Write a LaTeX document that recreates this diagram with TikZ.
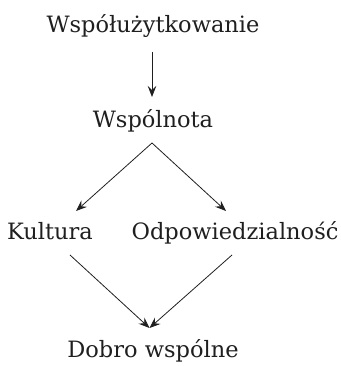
\documentclass[tikz,border=0pt]{standalone}
\usepackage{fontspec}
\setmainfont{DejaVu Serif}
\usetikzlibrary{arrows.meta}
\begin{document}
\begin{tikzpicture}[x=1pt,y=1pt,
  lbl/.style={anchor=base,inner sep=0pt,font=\fontsize{22.5}{27}\selectfont,text=black!88},
  arr/.style={-{Stealth[length=11pt,width=8.5pt,inset=4pt]},line width=0.8pt,draw=black!88}]
\useasboundingbox (0,0) rectangle (340,366);
\node[lbl] (t) at (153,333) {Współużytkowanie};
\node[lbl] (w) at (153,238) {Wspólnota};
\node[lbl] (k) at (50,126) {Kultura};
\node[lbl] (o) at (235,126) {Odpowiedzialność};
\node[lbl] (d) at (153,9) {Dobro wspólne};
\coordinate (t1) at (152,314);
\coordinate (w0) at (152,269);
\coordinate (w1) at (152,223);
\coordinate (k0) at (76,155);
\coordinate (o0) at (226,155);
\coordinate (k1) at (70,111);
\coordinate (o1) at (232,111);
\coordinate (d0) at (149.5,38);
\draw[arr] (t1) -- (w0);
\draw[arr] (w1) -- (k0);
\draw[arr] (w1) -- (o0);
\draw[arr] (k1) -- (d0);
\draw[arr] (o1) -- (d0);
\end{tikzpicture}
\end{document}
